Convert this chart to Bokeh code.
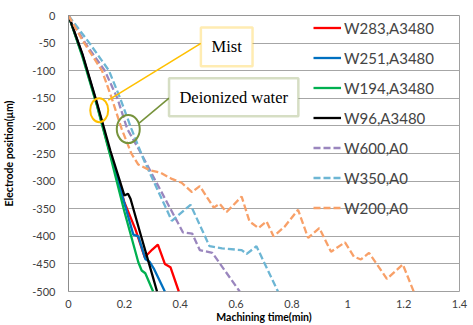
from bokeh.plotting import figure
from bokeh.models import Range1d, FixedTicker, Legend, LegendItem, Label, BoxAnnotation, Span
from bokeh.embed import file_html
from bokeh.resources import INLINE

# ---- tick labels ----
x_ticks = [0, 0.2, 0.4, 0.6, 0.8, 1.0, 1.2, 1.4]
x_tick_labels = ["0", "0.2", "0.4", "0.6", "0.8", "1", "1.2", "1.4"]
y_ticks = [0, -50, -100, -150, -200, -250, -300, -350, -400, -450, -500]
y_tick_labels = ["0", "-50", "-100", "-150", "-200", "-250", "-300", "-350", "-400", "-450", "-500"]

# ---- series ----
names = ["W283,A3480", "W251,A3480", "W194,A3480", "W96,A3480", "W600,A0", "W350,A0", "W200,A0"]

w283_x = [0, 0.05, 0.1, 0.15, 0.2, 0.24, 0.273, 0.3, 0.32, 0.345, 0.365, 0.395]
w283_y = [0, -72, -158, -252, -338, -388, -438, -424, -415, -450, -456, -500]

w251_x = [0, 0.05, 0.1, 0.15, 0.2, 0.232, 0.25, 0.275, 0.29, 0.305, 0.345]
w251_y = [0, -72, -157, -250, -340, -397, -400, -441, -446, -458, -500]

w194_x = [0, 0.05, 0.1, 0.15, 0.2, 0.25, 0.262, 0.275, 0.303]
w194_y = [0, -75, -160, -255, -355, -447, -462, -467, -500]

w96_x = [0, 0.05, 0.1, 0.15, 0.2, 0.213, 0.222, 0.26, 0.3, 0.317]
w96_y = [0, -70, -155, -245, -326, -323, -332, -400, -470, -500]

w600_x = [0, 0.06, 0.13, 0.175, 0.21, 0.26, 0.31, 0.41, 0.443, 0.47, 0.515, 0.613]
w600_y = [0, -50, -100, -150, -205, -250, -298, -393, -395, -425, -430, -500]

w350_x = [0, 0.075, 0.145, 0.185, 0.225, 0.27, 0.37, 0.437, 0.505, 0.55, 0.62, 0.638, 0.673, 0.75]
w350_y = [0, -50, -100, -150, -205, -262, -372, -343, -418, -422, -425, -432, -418, -500]

w200_x = [0, 0.05, 0.12, 0.155, 0.19, 0.225, 0.25, 0.29, 0.33, 0.37, 0.405, 0.442, 0.47, 0.52,
          0.541, 0.566, 0.62, 0.648, 0.68, 0.709, 0.734, 0.773, 0.822, 0.858, 0.898, 0.94,
          0.99, 1.022, 1.047, 1.076, 1.14, 1.197, 1.236]
w200_y = [0, -45, -100, -150, -205, -250, -270, -280, -285, -296, -303, -320, -309, -348,
          -341, -356, -328, -373, -385, -373, -400, -383, -352, -403, -385, -428,
          -411, -437, -442, -430, -477, -451, -500]

series_x = [w283_x, w251_x, w194_x, w96_x, w600_x, w350_x, w200_x]
series_y = [w283_y, w251_y, w194_y, w96_y, w600_y, w350_y, w200_y]
colors = ["#FF0000", "#0070C0", "#00B050", "#000000", "#9A86BE", "#6DB6D4", "#F8A068"]
dashes = ["solid", "solid", "solid", "solid", "7 3", "7 3", "7 3"]

FONT = "Lato"

p = figure(width=473, height=325, x_range=Range1d(0, 1.4), y_range=Range1d(-500, 0),
           output_backend="svg", toolbar_location=None,
           min_border_left=66, min_border_right=14, min_border_top=15, min_border_bottom=33)
p.background_fill_color = "white"
p.border_fill_color = "white"
p.outline_line_color = "#A0A0A0"
p.outline_line_width = 1

# grid
p.xgrid.grid_line_color = None
p.ygrid.grid_line_color = "#A6A6A6"
p.ygrid.grid_line_width = 1
p.ygrid.ticker = FixedTicker(ticks=y_ticks)

# bottom x axis: labels and title
xa = p.xaxis[0]
xa.ticker = FixedTicker(ticks=x_ticks)
xa.major_label_overrides = {t: s for t, s in zip(x_ticks, x_tick_labels)}
xa.axis_line_color = None
xa.major_tick_line_color = None
xa.major_tick_out = 0
xa.major_tick_in = 0
xa.minor_tick_line_color = None
xa.minor_tick_out = 0
xa.major_label_standoff = 8
xa.major_label_text_font = FONT
xa.major_label_text_font_size = "11px"
xa.major_label_text_color = "#404040"
xa.axis_label = "Machining time(min)"
xa.axis_label_text_font = FONT
xa.axis_label_text_font_style = "bold"
xa.axis_label_text_font_size = "10.5px"
xa.axis_label_text_color = "#000000"
xa.axis_label_standoff = 0

# zero line at the top
p.add_layout(Span(location=0, dimension="width", line_color="#8C8C8C", line_width=1))

# y axis
ya = p.yaxis[0]
ya.ticker = FixedTicker(ticks=y_ticks)
ya.major_label_overrides = {t: s for t, s in zip(y_ticks, y_tick_labels)}
ya.axis_line_color = "#8C8C8C"
ya.major_tick_line_color = None
ya.major_tick_out = 0
ya.major_tick_in = 0
ya.minor_tick_line_color = None
ya.minor_tick_out = 0
ya.major_label_standoff = 13
ya.major_label_text_font = FONT
ya.major_label_text_font_size = "11px"
ya.major_label_text_color = "#404040"
ya.axis_label = "Electrode position(μm)"
ya.axis_label_text_font = FONT
ya.axis_label_text_font_style = "bold"
ya.axis_label_text_font_size = "10.5px"
ya.axis_label_text_color = "#000000"
ya.axis_label_standoff = 14

# series
items = []
for name, xs, ys, c, d in zip(names, series_x, series_y, colors, dashes):
    r = p.line(xs, ys, line_color=c, line_width=2.3, line_dash=d)
    items.append(LegendItem(label=name, renderers=[r]))

legend = Legend(items=items, location=(245, 73), padding=0, spacing=9,
                label_height=21, glyph_height=21, glyph_width=28, label_standoff=3,
                label_text_font=FONT, label_text_font_size="15px",
                background_fill_alpha=0, border_line_alpha=0, margin=0)
p.add_layout(legend)

# annotations: boxes, circles and connectors
p.line([0.1425, 0.474], [-153.4, -50.5], line_color="#FFC000", line_width=1.6)
p.line([0.253, 0.360], [-195, -149.8], line_color="#77933C", line_width=1.6)
p.ellipse(x=[0.110], y=[-171.5], width=18, height=24, width_units="screen", height_units="screen",
          fill_color=None, line_color="#FFC000", line_width=2)
p.ellipse(x=[0.214], y=[-205.8], width=23, height=28, width_units="screen", height_units="screen",
          fill_color=None, line_color="#77933C", line_width=2)
p.add_layout(BoxAnnotation(left=0.474, right=0.659, top=-21.7, bottom=-92,
                           fill_color="white", fill_alpha=1, line_color="#FFC000", line_width=2.5))
p.add_layout(BoxAnnotation(left=0.360, right=0.823, top=-113.7, bottom=-182.3,
                           fill_color="white", fill_alpha=1, line_color="#77933C", line_width=2.5))
p.add_layout(Label(x=0.5665, y=-57, text="Mist", text_align="center", text_baseline="middle",
                   text_font="Liberation Serif", text_font_size="16.5px", text_color="black"))
p.add_layout(Label(x=0.5915, y=-148, text="Deionized water", text_align="center",
                   text_baseline="middle", text_font="Liberation Serif", text_font_size="16.5px",
                   text_color="black"))

open("out.html", "w").write(file_html(p, INLINE))
